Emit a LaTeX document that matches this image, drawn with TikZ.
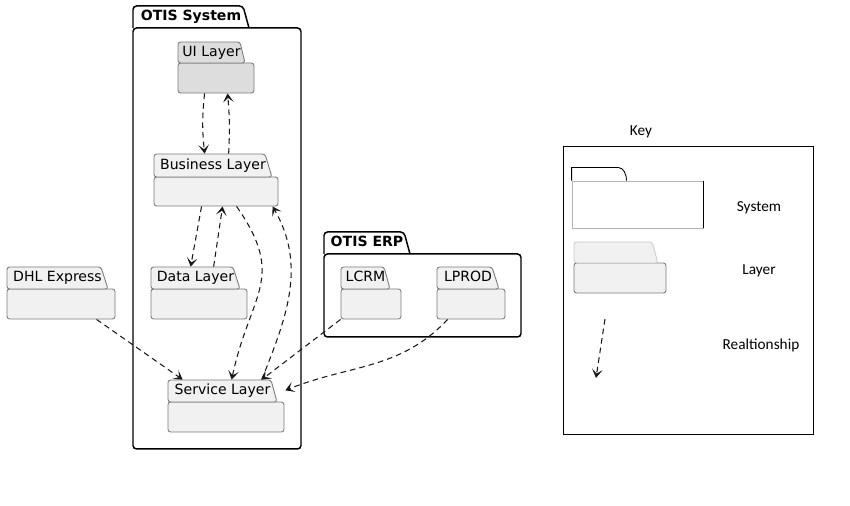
\documentclass[tikz,border=0pt]{standalone}
\usepackage{fontspec}
\setmainfont{DejaVu Sans}
\newfontfamily\keyfont{Carlito}
\usetikzlibrary{arrows.meta}
\usetikzlibrary{positioning}
\usetikzlibrary{fit}
\usetikzlibrary{calc}
\definecolor{pkgfill}{HTML}{F1F1F1}
\definecolor{uifill}{HTML}{DDDDDD}
\definecolor{pkgline}{HTML}{7A7A7A}
\definecolor{relline}{HTML}{181818}

\begin{document}
\begin{tikzpicture}[x=0.02cm,y=-0.02cm,
  every node/.style={font=\fontsize{8}{9.6}\selectfont},
  layer/.style={draw=pkgline,fill=pkgfill,line width=0.5pt,rounded corners=1.5pt,inner sep=0pt},
  system/.style={draw=black,line width=0.85pt,rounded corners=2pt,inner sep=0pt},
  tabtext/.style={inner sep=0pt,text height=6.1pt,text depth=1.9pt},
  systext/.style={tabtext,font=\bfseries\fontsize{8}{9.6}\selectfont},
  rel/.style={draw=relline,line width=0.6pt,dash pattern=on 3.2pt off 2.3pt,-{Stealth[length=5pt,width=6pt,inset=2.5pt]}},
  keytext/.style={font=\keyfont\fontsize{8.7}{10}\selectfont}]
  \useasboundingbox (0,0) rectangle (850,506);

  % OTIS System
  \node[system,fit={(133,28)(301,449)}] (otis) {};
  \draw[system] (133,28) |- (243,6) -- (249,28);
  \node[inner sep=0pt,fit={(133,6)(249,28)},label={[systext]center:OTIS System}] (otistab) {};

  \node[layer,fill=uifill,fit={(178,63)(254,93)}] (ui) {};
  \draw[layer,fill=uifill] (178,63) |- (240,42) -- (245,63) -- cycle;
  \node[inner sep=0pt,fit={(178,42)(245,63)},label={[tabtext]center:UI Layer}] (uitab) {};

  \node[layer,fit={(154,177)(278,206)}] (bus) {};
  \draw[layer] (154,177) |- (265,154) -- (272,177) -- cycle;
  \node[inner sep=0pt,fit={(154,154)(272,177)},label={[tabtext]center:Business Layer}] (bustab) {};

  \node[layer,fit={(151,289)(247,319)}] (data) {};
  \draw[layer] (151,289) |- (233,267) -- (240,289) -- cycle;
  \node[inner sep=0pt,fit={(151,267)(240,289)},label={[tabtext]center:Data Layer}] (datatab) {};

  \node[layer,fit={(168,402)(284,432)}] (serv) {};
  \draw[layer] (168,402) |- (271,380) -- (277,402) -- cycle;
  \node[inner sep=0pt,fit={(168,380)(277,402)},label={[tabtext]center:Service Layer}] (servtab) {};

  % DHL
  \node[layer,fit={(7,289)(115,319)}] (dhl) {};
  \draw[layer] (7,289) |- (101,267) -- (108,289) -- cycle;
  \node[inner sep=0pt,fit={(7,267)(108,289)},label={[tabtext]center:DHL Express}] (dhltab) {};

  % OTIS ERP
  \node[system,fit={(324,254)(521,337)}] (erp) {};
  \draw[system] (324,254) |- (404,232) -- (410,254);
  \node[inner sep=0pt,fit={(324,232)(410,254)},label={[systext]center:OTIS ERP}] (erptab) {};

  \node[layer,fit={(341,289)(401,319)}] (lcrm) {};
  \draw[layer] (341,289) |- (384,267) -- (390,289) -- cycle;
  \node[inner sep=0pt,fit={(341,267)(390,289)},label={[tabtext]center:LCRM}] (lcrmtab) {};

  \node[layer,fit={(437,289)(505,319)}] (lprod) {};
  \draw[layer] (437,289) |- (492,267) -- (499,289) -- cycle;
  \node[inner sep=0pt,fit={(437,267)(499,289)},label={[tabtext]center:LPROD}] (lprodtab) {};

  % relations
  \draw[rel] ($(ui.south west)+(27,0)$) to[bend right=6] ($(bustab.north west)+(51,0)$);
  \draw[rel] ($(bustab.north west)+(75,0)$) to[bend right=4] ($(ui.south west)+(50,0)$);
  \draw[rel] ($(bus.south west)+(48,0)$) -- ($(datatab.north west)+(40,0)$);
  \draw[rel] ($(datatab.north west)+(63,0)$) -- ($(bus.south west)+(69,0)$);
  \draw[rel] ($(bus.south west)+(83,0)$) to[out=-55,in=78,looseness=1.3] ($(servtab.north west)+(64,0)$);
  \draw[rel] ($(servtab.north west)+(94,0)$) to[out=68,in=-60] ($(bus.south west)+(119,0)$);
  \draw[rel] (lcrm.south west) -- ($(servtab.north west)+(94,0)$);
  \draw[rel] ($(lprod.south west)+(11,0)$) to[out=-133,in=22] ($(servtab.south east)+(8,-12)$);
  \draw[rel] ($(dhl.south west)+(90,0)$) -- ($(servtab.north west)+(15,0)$);

  % key
  \node[keytext] (keytitle) at (641,132) {Key};
  \node[draw=black,line width=0.5pt,inner sep=0pt,fit={(563,146)(813,434)}] (key) {};

  \node[draw=gray!60,line width=0.5pt,inner sep=0pt,fit={(572,181)(703,228)}] (keysys) {};
  \draw[line width=0.9pt] (keysys.north east) -- (keysys.south east);
  \draw[line width=0.5pt] (keysys.north west) -- ++(0,-13) -- ++(47,0) .. controls ++(5,0) and ++(0,-6) .. ++(8,13);
  \node[keytext] (keysystxt) at (759,208) {System};

  \node[layer,fit={(574,263)(666,293)}] (keylayer) {};
  \draw[layer,draw=pkgline!40] (574,263) |- (652,242) -- (658,263) -- cycle;
  \node[keytext] (keylayertxt) at (759,271) {Layer};

  \coordinate (keyrelA) at (605,319);
  \coordinate (keyrelB) at (596,378);
  \draw[rel] (keyrelA) -- (keyrelB);
  \node[keytext] (keyreltxt) at (761,345) {Realtionship};
\end{tikzpicture}
\end{document}
